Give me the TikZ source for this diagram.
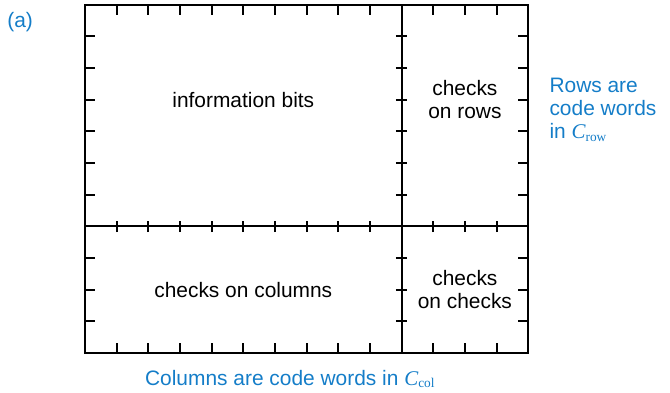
\documentclass[tikz,border=0pt]{standalone}
\usepackage{fontspec}
\setmainfont{Liberation Sans}
\newfontfamily\timesfont{Liberation Serif}
\usepackage{tikz}
\usetikzlibrary{positioning}
\definecolor{capblue}{RGB}{20,125,200}
\tikzstyle{frame}=[line width=1.8pt]
\tikzstyle{block}=[align=center, font=\fontsize{18.8}{20.6}\selectfont]
\tikzstyle{caption}=[text=capblue, font=\fontsize{18.8}{20.6}\selectfont]
\newcommand{\codeC}[1]{{\timesfont\itshape C}\textsubscript{\timesfont\large #1}}

\begin{document}
\begin{tikzpicture}
 \useasboundingbox (-2.686,-1.232) rectangle (18.48,11.153);
% frame and dividers
 \draw[frame] (0,0) rectangle (14,11);
 \draw[frame] (10,0) -- (10,11);
 \draw[frame] (0,4) -- (14,4);
% ticks on the outer edges
 \foreach \i in {1,...,9,11,12,13} {
  \draw[frame] (\i,11) -- ++(0,-.32);
  \draw[frame] (\i,0) -- ++(0,.32);
  \draw[frame] (\i,3.82) -- (\i,4.18);
 }
 \foreach \j in {1,2,3,5,6,7,8,9,10} {
  \draw[frame] (0,\j) -- ++(.32,0);
  \draw[frame] (14,\j) -- ++(-.32,0);
  \draw[frame] (9.82,\j) -- (10.18,\j);
 }
%
 \node[block] (info) at (5,8) {information bits};
 \node[block] (rowchk) at (12,8) {checks\\on rows};
 \node[block] (colchk) at (5,2) {checks on columns};
 \node[block] (chkchk) at (12,2) {checks\\on checks};
%
 \node[caption] (parta) at (-2.05,10.46) {(a)};
 \node[caption, align=left, anchor=west] (rowlab) at (14.55,7.68) {Rows are\\code words\\in \codeC{row}};
 \node[caption, anchor=base] (collab) at (6.48,-1.01) {Columns are code words in \codeC{col}};
\end{tikzpicture}
\end{document}
